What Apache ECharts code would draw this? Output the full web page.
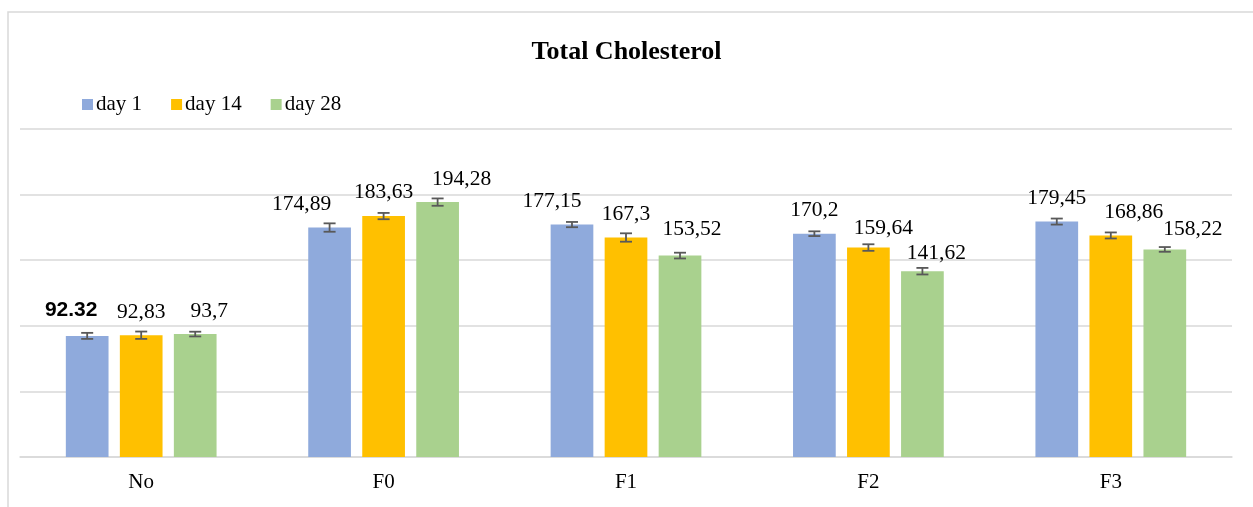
<!DOCTYPE html>
<html><head><meta charset="utf-8">
<script src="https://cdn.jsdelivr.net/npm/echarts/dist/echarts.min.js"></script>
<style>html,body{margin:0;padding:0;background:#fff}#c{width:1253px;height:507px}</style>
</head><body><div id="c"></div>
<script>
const categories = ['No','F0','F1','F2','F3'];
const seriesNames = ['day 1','day 14','day 28'];
const day1 = [92.32,174.89,177.15,170.2,179.45];
const day14 = [92.83,183.63,167.3,159.64,168.86];
const day28 = [93.7,194.28,153.52,141.62,158.22];
const err1 = [2.3,3.2,2.0,1.8,2.3];
const err14 = [2.8,2.4,3.2,2.5,2.3];
const err28 = [1.8,2.8,2.2,2.5,1.8];
const labels1 = ['92.32','174,89','177,15','170,2','179,45'];
const labels14 = ['92,83','183,63','167,3','159,64','168,86'];
const labels28 = ['93,7','194,28','153,52','141,62','158,22'];
const yTicks = [0,50,100,150,200,250];
// label placement tweaks (px), style only
const labelDx = [[-16,-28,-20,0,0],[0,0,0,15,23],[14,24,12,14,28]];
const labelDy = [[-3,0,0,0,0],[0,-1,0,4,0],[0,0,-3,5,3]];

const colors = ['#8FAADC','#FFC000','#A9D18E'];
const SERIF = 'Liberation Serif';
const BW = 42.7, GAP = 0.265;
const vals = [day1, day14, day28];
const errs = [err1, err14, err28];
const labs = [labels1, labels14, labels28];

function barSeries(k){
  return {
    type:'bar', name: seriesNames[k], barWidth: BW, barGap: (GAP*100)+'%',
    itemStyle:{color: colors[k]},
    data: vals[k].map((v,i)=>{
      const lab = {offset:[labelDx[k][i], labelDy[k][i]], formatter: labs[k][i]};
      if (k===0 && i===0){ lab.fontFamily='Liberation Sans'; lab.fontWeight='bold'; lab.fontSize=21; }
      return {value:v, label: lab};
    }),
    label:{show:true, position:'top', distance:12, color:'#000', fontFamily:SERIF, fontSize:21.5},
    z:2
  };
}
function errSeries(k){
  return {type:'custom', name: seriesNames[k]+' err', silent:true, z:5,
    data: vals[k].map((v,i)=>[i, v, errs[k][i]]),
    encode:{x:0, y:1},
    renderItem(params, api){
      const i = api.value(0), v = api.value(1), e = api.value(2);
      const c = api.coord([i, v]);
      const x = c[0] + (k-1)*BW*(1+GAP);
      const yHi = api.coord([i, v+e])[1], yLo = api.coord([i, v-e])[1];
      const w = 6;
      const st = {stroke:'#595959', lineWidth:1.8};
      return {type:'group', children:[
        {type:'line', shape:{x1:x,y1:yHi,x2:x,y2:yLo}, style:st},
        {type:'line', shape:{x1:x-w,y1:yHi,x2:x+w,y2:yHi}, style:st},
        {type:'line', shape:{x1:x-w,y1:yLo,x2:x+w,y2:yLo}, style:st}
      ]};
    }};
}

const chart = echarts.init(document.getElementById('c'), null, {renderer:'canvas'});
chart.setOption({
  animation:false,
  backgroundColor:'#fff',
  graphic:[{type:'rect', silent:true, shape:{x:8, y:12, width:1400, height:700},
    style:{fill:'none', stroke:'#d9d9d9', lineWidth:1.5}}],
  title:{text:'Total Cholesterol', left:'center', top:34,
    textStyle:{fontFamily:SERIF, fontWeight:'bold', fontSize:26, color:'#000'}},
  legend:{data: seriesNames, left:77, top:89, itemWidth:11, itemHeight:11, itemGap:29,
    icon:'rect', textStyle:{fontFamily:SERIF, fontSize:21, color:'#000', padding:[0,0,0,-2]}},
  grid:{left:20, right:21, top:129, bottom:50, containLabel:false},
  xAxis:{type:'category', data: categories,
    axisLine:{lineStyle:{color:'#d9d9d9', width:1.5}}, axisTick:{show:false},
    axisLabel:{color:'#000', fontFamily:SERIF, fontSize:21, margin:15}},
  yAxis:{type:'value', min:yTicks[0], max:yTicks[yTicks.length-1], interval:yTicks[1]-yTicks[0],
    axisLabel:{show:false}, axisLine:{show:false}, axisTick:{show:false},
    splitLine:{lineStyle:{color:'#d9d9d9', width:1.5}}},
  series:[barSeries(0), barSeries(1), barSeries(2), errSeries(0), errSeries(1), errSeries(2)]
});
</script></body></html>
